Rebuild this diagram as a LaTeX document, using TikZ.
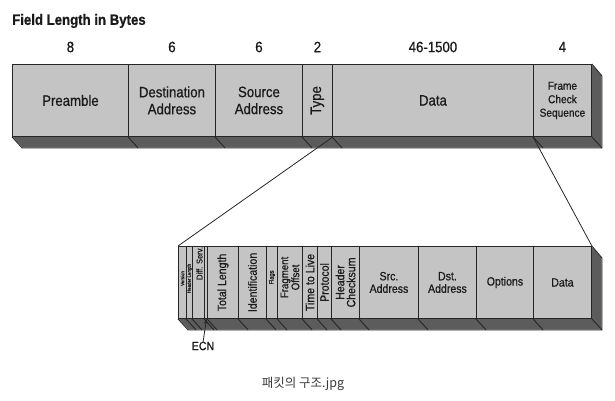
\documentclass[tikz,border=0pt]{standalone}
\usepackage{fontspec}
\setmainfont[FakeStretch=0.88, FakeBold=0.6]{Liberation Sans}
\newfontfamily\krfont{Noto Sans CJK KR}
\usetikzlibrary{arrows.meta,calc}
\definecolor{face}{HTML}{C4C4C4}
\definecolor{depthc}{HTML}{5C5C5C}
\definecolor{edgec}{HTML}{262626}
\definecolor{txt}{HTML}{1A1A1A}
\definecolor{capc}{HTML}{3A3A3A}
\tikzset{
  fld/.style={draw=edgec, line width=0.9pt, fill=face, inner sep=0pt, anchor=north west, minimum height=72pt},
  lbl/.style={text=txt, inner sep=0pt, align=center, font=\fontsize{15}{17}\selectfont},
  slbl/.style={text=txt, inner sep=0pt, align=center, font=\fontsize{12}{12.5}\selectfont},
  num/.style={text=txt, inner sep=0pt, font=\fontsize{15}{17}\selectfont},
  dep/.style={fill=depthc, draw=edgec, line width=0.9pt, line join=round},
  slant/.style={draw=edgec, line width=0.9pt},
  conn/.style={draw=edgec, line width=0.8pt},
}
\begin{document}
\begin{tikzpicture}[x=1pt,y=-1pt]
\useasboundingbox (0,0) rectangle (615,401);

% ---------- title ----------
\node[anchor=west, inner sep=0pt, text=txt, font=\fontsize{15}{17}\bfseries\selectfont] (title) at (12,21) {Field Length in Bytes};

% ---------- top frame ----------
\fill[depthc] (12,136) -- (591,136) -- (601,147) -- (22,147) -- cycle;
\fill[depthc] (591,64) -- (601,75) -- (601,147) -- (591,136) -- cycle;
\node[fld, minimum width=116pt] (pre) at (12,64) {};
\node[fld, minimum width=87pt] (dst) at (128,64) {};
\node[fld, minimum width=87pt] (src) at (215,64) {};
\node[fld, minimum width=30pt] (typ) at (302,64) {};
\node[fld, minimum width=201pt] (tdata) at (332,64) {};
\node[fld, minimum width=58pt] (fcs) at (533,64) {};
\draw[dep, fill=none] (pre.south west) -- ++(10,11) -- ($(fcs.south east)+(10,11)$) -- ++(0,-72) -- (fcs.north east);
\draw[slant] ($(fcs.south east)+(10,11)$) -- (fcs.south east);
\foreach \n in {dst,src,typ,tdata,fcs} \draw[slant] (\n.south west) -- ++(10,11);

\node[lbl] (preL) at (pre.center) {Preamble};
\node[lbl] (dstL) at (dst.center) {Destination\\Address};
\node[lbl] (srcL) at (src.center) {Source\\Address};
\node[lbl, rotate=90] (typL) at (typ.center) {Type};
\node[lbl] (tdataL) at (tdata.center) {Data};
\node[text=txt, inner sep=0pt, align=center, font=\fontsize{11.5}{13.5}\selectfont] (fcsL) at (fcs.center) {Frame\\Check\\Sequence};

\node[num] (n1) at ($(pre.north)+(0,-17)$) {8};
\node[num] (n2) at ($(dst.north)+(0,-17)$) {6};
\node[num] (n3) at ($(src.north)+(0,-17)$) {6};
\node[num] (n4) at ($(typ.north)+(0,-17)$) {2};
\node[num] (n5) at ($(tdata.north)+(0,-17)$) {46-1500};
\node[num] (n6) at ($(fcs.north)+(0,-17)$) {4};

% ---------- bottom frame ----------
\fill[depthc] (178,318) -- (591,318) -- (601,329) -- (188,329) -- cycle;
\fill[depthc] (591,246) -- (601,257) -- (601,329) -- (591,318) -- cycle;
\node[fld, minimum width=8pt] (ver) at (178,246) {};
\node[fld, minimum width=6pt] (hl) at (186,246) {};
\node[fld, minimum width=12pt] (ds) at (192,246) {};
\node[fld, minimum width=3pt] (ecnf) at (204,246) {};
\node[fld, minimum width=31pt] (tl) at (207,246) {};
\node[fld, minimum width=28pt] (ident) at (238,246) {};
\node[fld, minimum width=11pt] (flg) at (266,246) {};
\node[fld, minimum width=25pt] (frag) at (277,246) {};
\node[fld, minimum width=15pt] (ttl) at (302,246) {};
\node[fld, minimum width=14pt] (prot) at (317,246) {};
\node[fld, minimum width=28pt] (hcs) at (331,246) {};
\node[fld, minimum width=59pt] (sa) at (359,246) {};
\node[fld, minimum width=58pt] (da) at (418,246) {};
\node[fld, minimum width=57pt] (opt) at (476,246) {};
\node[fld, minimum width=58pt] (bdata) at (533,246) {};
\draw[dep, fill=none] (ver.south west) -- ++(10,11) -- ($(bdata.south east)+(10,11)$) -- ++(0,-72) -- (bdata.north east);
\draw[slant] ($(bdata.south east)+(10,11)$) -- (bdata.south east);
\foreach \n in {hl,ds,ecnf,tl,ident,flg,frag,ttl,prot,hcs,sa,da,opt,bdata} \draw[slant] (\n.south west) -- ++(10,11);

\node[text=txt, inner sep=0pt, rotate=90, font=\fontsize{5}{5}\selectfont] (verL) at ($(ver.center)+(0,-4)$) {Version};
\node[text=txt, inner sep=0pt, rotate=90, font=\fontsize{5}{5}\selectfont] (hlL) at ($(hl.center)+(0,-4)$) {Header Length};
\node[text=txt, inner sep=0pt, rotate=90, font=\fontsize{8.5}{9}\selectfont] (dsL) at ($(ds.center)+(1,-19)$) {Diff. Serv.};
\node[slbl, rotate=90] (tlL) at (tl.center) {Total Length};
\node[slbl, rotate=90] (identL) at (ident.center) {Identification};
\node[text=txt, inner sep=0pt, rotate=90, font=\fontsize{6.5}{7}\selectfont] (flgL) at ($(flg.center)+(0,-5)$) {Flags};
\node[text=txt, inner sep=0pt, align=center, rotate=90, font=\fontsize{11}{11}\selectfont] (fragL) at ($(frag.center)+(0,-5)$) {Fragment\\Offset};
\node[slbl, rotate=90] (ttlL) at (ttl.center) {Time to Live};
\node[slbl, rotate=90] (protL) at (prot.center) {Protocol};
\node[text=txt, inner sep=0pt, align=center, rotate=90, font=\fontsize{12}{11}\selectfont] (hcsL) at (hcs.center) {Header\\Checksum};
\node[slbl] (saL) at (sa.center) {Src.\\Address};
\node[slbl] (daL) at (da.center) {Dst.\\Address};
\node[slbl] (optL) at (opt.center) {Options};
\node[slbl] (bdataL) at (bdata.center) {Data};

% ECN
\node[text=txt, inner sep=0pt, font=\fontsize{12}{12}\selectfont] (ecn) at (203,346) {ECN};
\draw[conn, -{Stealth[length=5pt,width=4pt]}] ([yshift=-1pt]ecn.north) -- ([xshift=0.5pt]ecnf.south);

% ---------- connectors ----------
\draw[conn] (typ.south east) -- (ver.north west);
\draw[conn] (fcs.south west) -- (bdata.north east);

% ---------- caption ----------
\node[text=capc, inner sep=0pt, font=\krfont\fontsize{12.5}{14}\selectfont] (cap) at (303,384) {패킷의 구조.jpg};
\end{tikzpicture}
\end{document}
